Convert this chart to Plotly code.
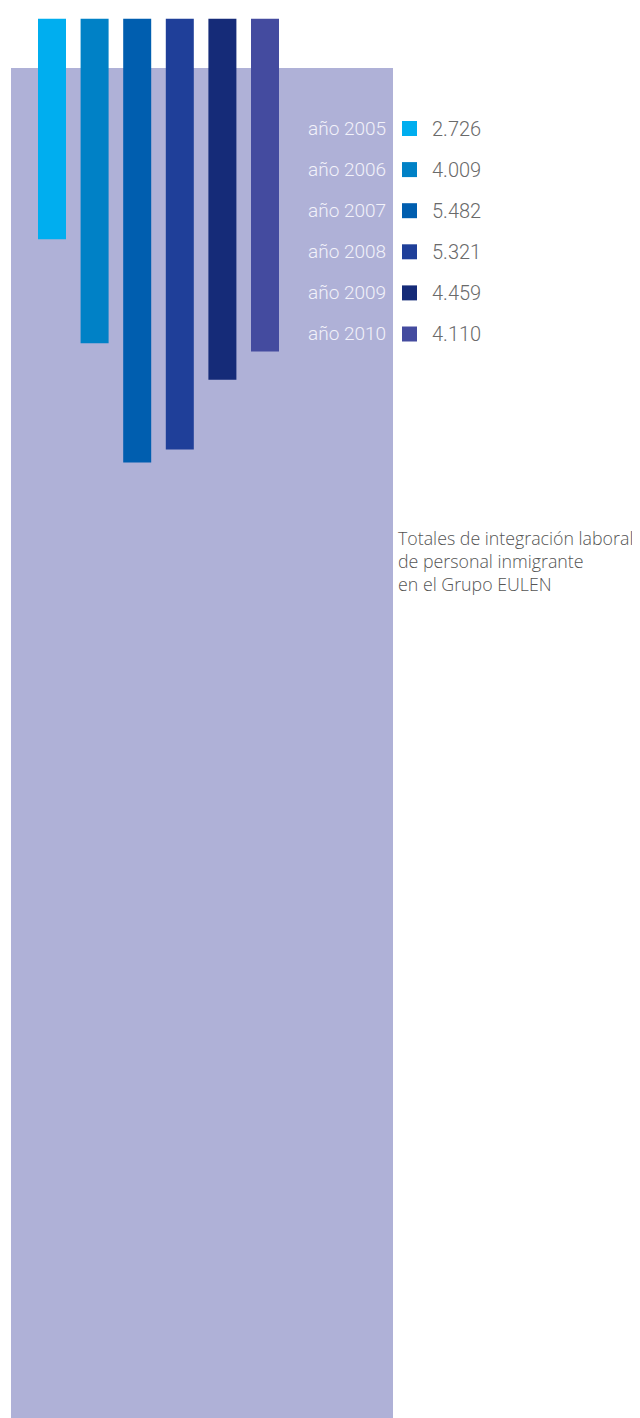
import plotly.graph_objects as go

# ---- data ----
years = ["2005", "2006", "2007", "2008", "2009", "2010"]
values = [2726, 4009, 5482, 5321, 4459, 4110]
colors = ["#00AEEF", "#0081C6", "#005EAF", "#1F3F99", "#152B78", "#444B9F"]
caption = ["Totales de integración laboral", "de personal inmigrante", "en el Grupo EULEN"]

W, H = 640, 1418
OFF = 8  # page body margin


def px_x(x):
    return (x - OFF) / W


def px_y(y):
    return 1 - (y - OFF) / H


def fmt(v):
    return f"{v:,}".replace(",", ".")


fig = go.Figure()
fig.add_trace(go.Bar(
    x=years, y=values, marker=dict(color=colors, line=dict(width=0)),
    hoverinfo="skip", showlegend=False,
))

# light purple panel behind bars
shapes = [dict(type="rect", xref="paper", yref="paper", x0=px_x(11), x1=px_x(393),
               y0=0, y1=px_y(68), fillcolor="#AFB1D7", line=dict(width=0), layer="below")]

annotations = []
row0, step = 128.5, 41.1
for i, (yr, v, c) in enumerate(zip(years, values, colors)):
    yc = row0 + i * step
    shapes.append(dict(type="rect", xref="paper", yref="paper", x0=px_x(402), x1=px_x(417),
                       y0=px_y(yc + 7.5), y1=px_y(yc - 7.5), fillcolor=c, line=dict(width=0)))
    annotations.append(dict(xref="paper", yref="paper", x=px_x(388), y=px_y(yc),
                            xanchor="right", yanchor="middle", showarrow=False,
                            text=f"año {yr}", font=dict(family="Roboto", weight=300, size=19, color="#F2F2FA")))
    annotations.append(dict(xref="paper", yref="paper", x=px_x(430), y=px_y(yc),
                            xanchor="left", yanchor="middle", showarrow=False,
                            text=fmt(v), font=dict(family="Roboto", weight=300, size=20, color="#6A6A6A")))

annotations.append(dict(xref="paper", yref="paper", x=px_x(396), y=px_y(524),
                        xanchor="left", yanchor="top", align="left", showarrow=False,
                        text="<br>".join(caption),
                        font=dict(family="Open Sans", weight=300, size=17.8, color="#555555")))

bar_scale = 0.081  # px per unit
top_px = 18.5
plot_h = H - (top_px - OFF)
fig.update_layout(
    width=W, height=H, margin=dict(l=0, r=0, t=0, b=0),
    paper_bgcolor="white", plot_bgcolor="rgba(0,0,0,0)",
    bargap=1 - 28 / 42.6,
    xaxis=dict(type="category", domain=[(30.7 - OFF) / W, (30.7 - OFF + 6 * 42.6) / W],
               visible=False, fixedrange=True),
    yaxis=dict(range=[plot_h / bar_scale, 0], domain=[0, px_y(top_px)],
               visible=False, fixedrange=True),
    shapes=shapes, annotations=annotations,
)

fig.write_html("out.html")
